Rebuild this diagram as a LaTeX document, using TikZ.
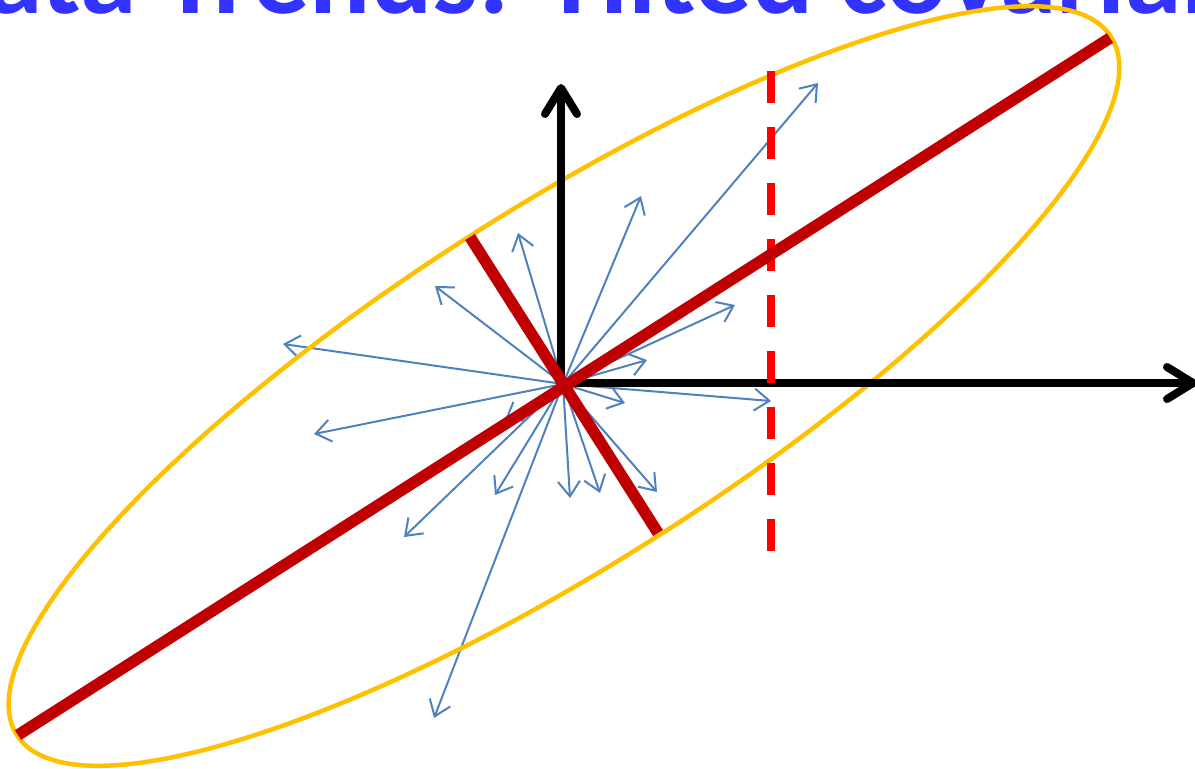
\documentclass[tikz,border=0pt]{standalone}
\usepackage{fontspec}
\usetikzlibrary{arrows.meta}
\newfontfamily\titlefont{Carlito}
\definecolor{TrendBlue}{RGB}{51,51,255}
\definecolor{VecBlue}{RGB}{79,129,189}
\definecolor{AxisRed}{RGB}{192,0,0}
\definecolor{CutRed}{RGB}{255,0,0}
\definecolor{RimGold}{RGB}{255,192,0}

\begin{document}
\begin{tikzpicture}[
        x=0.02cm, y=-0.02cm,
        vec/.style={draw=VecBlue,line width=0.04cm,-{Straight Barb[length=0.3cm,width=0.44cm]}},
        rim/.style={draw=RimGold,line width=0.09cm},
        axline/.style={line width=0.16cm,{Straight Barb[length=0.52cm,width=0.64cm,round]}-{Straight Barb[length=0.52cm,width=0.64cm,round]}},
        pc/.style={draw=AxisRed,line width=0.23cm},
        cutline/.style={draw=CutRed,line width=0.16cm,dash pattern=on 0.64cm off 0.48cm},
        headline/.style={anchor=base west,inner sep=0pt,text=TrendBlue,font=\titlefont\bfseries\fontsize{65}{78}\selectfont}
      ]
        \useasboundingbox (0,0) rectangle (1195,768);
        \clip (0,0) rectangle (1195,768);
        \node[headline] (title) at (-86,13) {Data Trends: Tilted covariance};
        % data vectors
        \coordinate (o) at (563,384);
        \foreach \px/\py [count=\i] in {818/83,641/196,518/233,435/286,283/344,314/434,735/305,647/360,771/401,625/403,657/492,600/493,570/498,495/495,404/537,434/718,505/420}{
          \coordinate (v\i) at (\px,\py);
          \draw[vec] (o) -- (v\i);
        }
        % covariance ellipse
        \coordinate (e) at (564,386);
        \draw[rim,rotate around={32.55:(e)}] (e) ellipse [x radius=649,y radius=177];
        % axes
        \coordinate (ytip) at (561,84);
        \coordinate (orig) at (561,383);
        \coordinate (xtip) at (1197,383);
        \draw[axline] (ytip) -- (orig) -- (xtip);
        \coordinate (cut1) at (771,71);
        \coordinate (cut2) at (771,551);
        \draw[cutline] (cut1) -- (cut2);
        % principal axes
        \coordinate (maj1) at (18,735);
        \coordinate (maj2) at (1110,38);
        \coordinate (min1) at (470,237);
        \coordinate (min2) at (658,533);
        \draw[pc] (maj1) -- (maj2);
        \draw[pc] (min1) -- (min2);
      \end{tikzpicture}
\end{document}
